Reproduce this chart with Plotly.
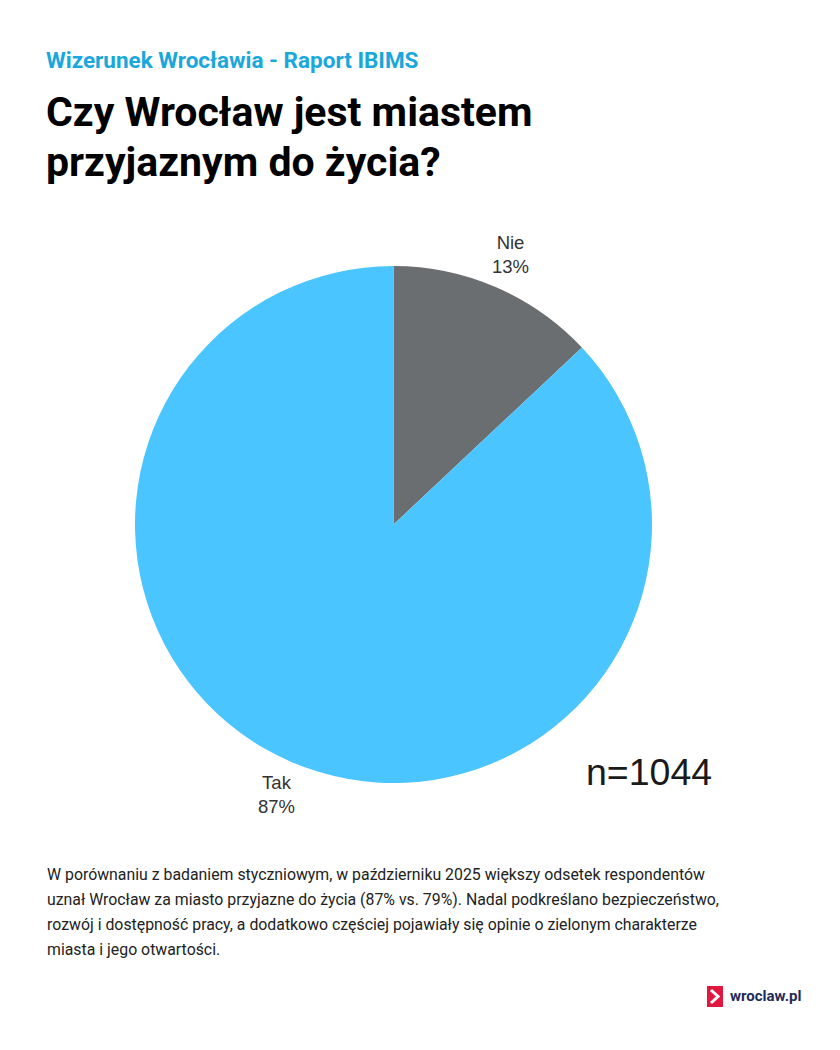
import math
import plotly.graph_objects as go

labels = ["Nie", "Tak"]
values = [13, 87]
colors = ["#6B6E70", "#4BC5FF"]

subtitle = "Wizerunek Wrocławia - Raport IBIMS"
title_lines = ["Czy Wrocław jest miastem", "przyjaznym do życia?"]
sample_note = "n=1044"
body_lines = [
    "W porównaniu z badaniem styczniowym, w październiku 2025 większy odsetek respondentów",
    "uznał Wrocław za miasto przyjazne do życia (87% vs. 79%). Nadal podkreślano bezpieczeństwo,",
    "rozwój i dostępność pracy, a dodatkowo częściej pojawiały się opinie o zielonym charakterze",
    "miasta i jego otwartości.",
]
logo_text = "wroclaw.pl"

W, H = 840, 1050
OFF = 8  # page body margin


def px(x):
    return (x - OFF) / W


def py(y):
    return 1 - (y - OFF) / H


# pie geometry (pixels in the screenshot)
cx, cy, r = 393.5, 524.5, 258.5

fig = go.Figure()
fig.add_trace(go.Pie(
    labels=labels,
    values=values,
    marker=dict(colors=colors, line=dict(width=0)),
    sort=False,
    direction="clockwise",
    rotation=0,
    textinfo="none",
    showlegend=False,
    hoverinfo="label+percent",
    domain=dict(x=[px(cx - r), px(cx + r)], y=[py(cy + r), py(cy - r)]),
))

annotations = []

# slice labels placed radially outside each slice's mid-angle
total = sum(values)
cum = 0
for lab, val in zip(labels, values):
    mid = (cum + val / 2) / total * 2 * math.pi
    cum += val
    lx = cx + (r + 36) * math.sin(mid)
    ly = cy - (r + 36) * math.cos(mid)
    annotations.append(dict(
        text=f"{lab}<br>{round(val / total * 100)}%", x=px(lx), y=py(ly),
        xref="paper", yref="paper", xanchor="center", yanchor="middle",
        showarrow=False, align="center",
        font=dict(family="Liberation Sans, Arial", size=18.5, color="#333333"),
    ))

annotations.append(dict(
    text=f"<b>{subtitle}</b>", x=px(44), y=py(60), xref="paper", yref="paper",
    xanchor="left", yanchor="middle", showarrow=False,
    font=dict(family="Roboto", size=22.5, color="#1AA7DC"),
))
for i, line in enumerate(title_lines):
    annotations.append(dict(
        text=f"<b>{line}</b>", x=px(44), y=py(112 + i * 50), xref="paper", yref="paper",
        xanchor="left", yanchor="middle", showarrow=False,
        font=dict(family="Roboto", size=41, color="#000000"),
    ))
annotations.append(dict(
    text=sample_note, x=px(584), y=py(772), xref="paper", yref="paper",
    xanchor="left", yanchor="middle", showarrow=False,
    font=dict(family="Liberation Sans, Arial", size=37.5, color="#1a1a1a"),
))
for i, line in enumerate(body_lines):
    annotations.append(dict(
        text=line, x=px(45), y=py(874 + i * 25), xref="paper", yref="paper",
        xanchor="left", yanchor="middle", showarrow=False,
        font=dict(family="Roboto", size=15.85, color="#222222"),
    ))
annotations.append(dict(
    text=f"<b>{logo_text}</b>", x=px(728), y=py(996), xref="paper", yref="paper",
    xanchor="left", yanchor="middle", showarrow=False,
    font=dict(family="Roboto", size=15, color="#1F2B5A"),
))

shapes = [
    dict(type="rect", xref="paper", yref="paper",
         x0=px(707), x1=px(723), y0=py(1007), y1=py(986),
         fillcolor="#E2173F", line=dict(width=0)),
    dict(type="path", xref="paper", yref="paper",
         path=f"M {px(711)} {py(990)} L {px(718)} {py(996.5)} L {px(711)} {py(1003)}",
         line=dict(color="white", width=3)),
]

fig.update_layout(
    width=W, height=H,
    margin=dict(l=0, r=0, t=0, b=0),
    paper_bgcolor="white", plot_bgcolor="white",
    annotations=annotations,
    shapes=shapes,
)

fig.write_html("out.html")
